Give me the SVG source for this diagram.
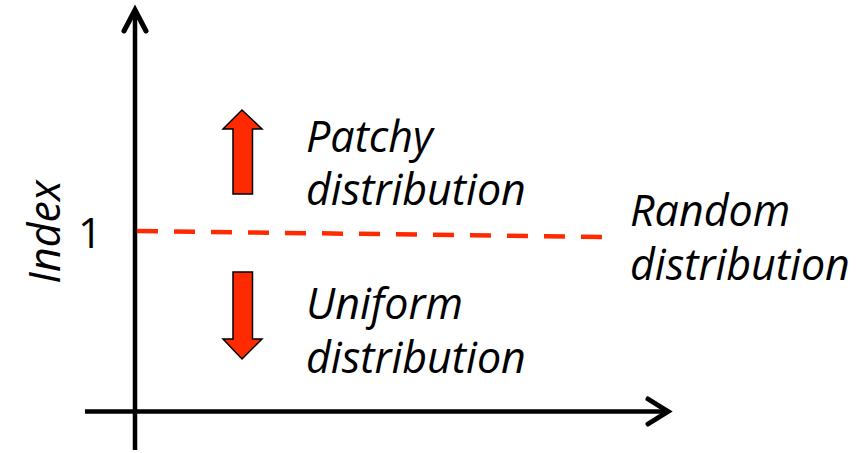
<svg xmlns="http://www.w3.org/2000/svg" width="857" height="453" viewBox="0 0 857 453">
<style>
.axis{stroke:#000;stroke-width:4.5;fill:none}
.head{stroke:#000;stroke-width:5;fill:none;stroke-linecap:round;stroke-linejoin:miter}
.lbl{font-family:"Open Sans","Liberation Sans",sans-serif;font-style:italic;font-size:43px;fill:#000}
.num{font-family:"Open Sans","Liberation Sans",sans-serif;font-size:42px;fill:#000}
.dir{fill:#ff2a00;stroke:#000;stroke-width:1.5;stroke-linejoin:miter}
</style>
<rect width="857" height="453" fill="#fff"/>
<g id="connectors">
<g id="y-axis">
<line class="axis" x1="135" y1="450" x2="135" y2="12"/>
<polyline class="head" points="124,31 135,10 146,31"/>
</g>
<g id="x-axis">
<line class="axis" x1="85" y1="411.5" x2="666" y2="411.5"/>
<polyline class="head" points="648,399 668,411.5 648,424"/>
</g>
<line id="random-line" x1="137" y1="231" x2="607" y2="237" stroke="#ff2a00" stroke-width="4.5" stroke-dasharray="21 16"/>
</g>
<g id="y-label">
<text class="lbl" transform="translate(60,232) rotate(-90)" text-anchor="middle">Index</text>
</g>
<g id="tick-1">
<text class="num" x="102" y="248" text-anchor="end">1</text>
</g>
<g id="up-arrow">
<polygon class="dir" points="242,110 262,129 252.5,129 252.5,194 233,194 233,129 223,129"/>
</g>
<g id="down-arrow">
<polygon class="dir" points="233,272 252.5,272 252.5,339 262,339 242,359 223,339 233,339"/>
</g>
<g id="patchy">
<text class="lbl" x="306" y="152">Patchy</text>
<text class="lbl" x="306" y="205">distribution</text>
</g>
<g id="uniform">
<text class="lbl" x="306" y="319">Uniform</text>
<text class="lbl" x="306" y="373">distribution</text>
</g>
<g id="random">
<text class="lbl" x="630" y="226">Random</text>
<text class="lbl" x="630" y="280">distribution</text>
</g>
</svg>
